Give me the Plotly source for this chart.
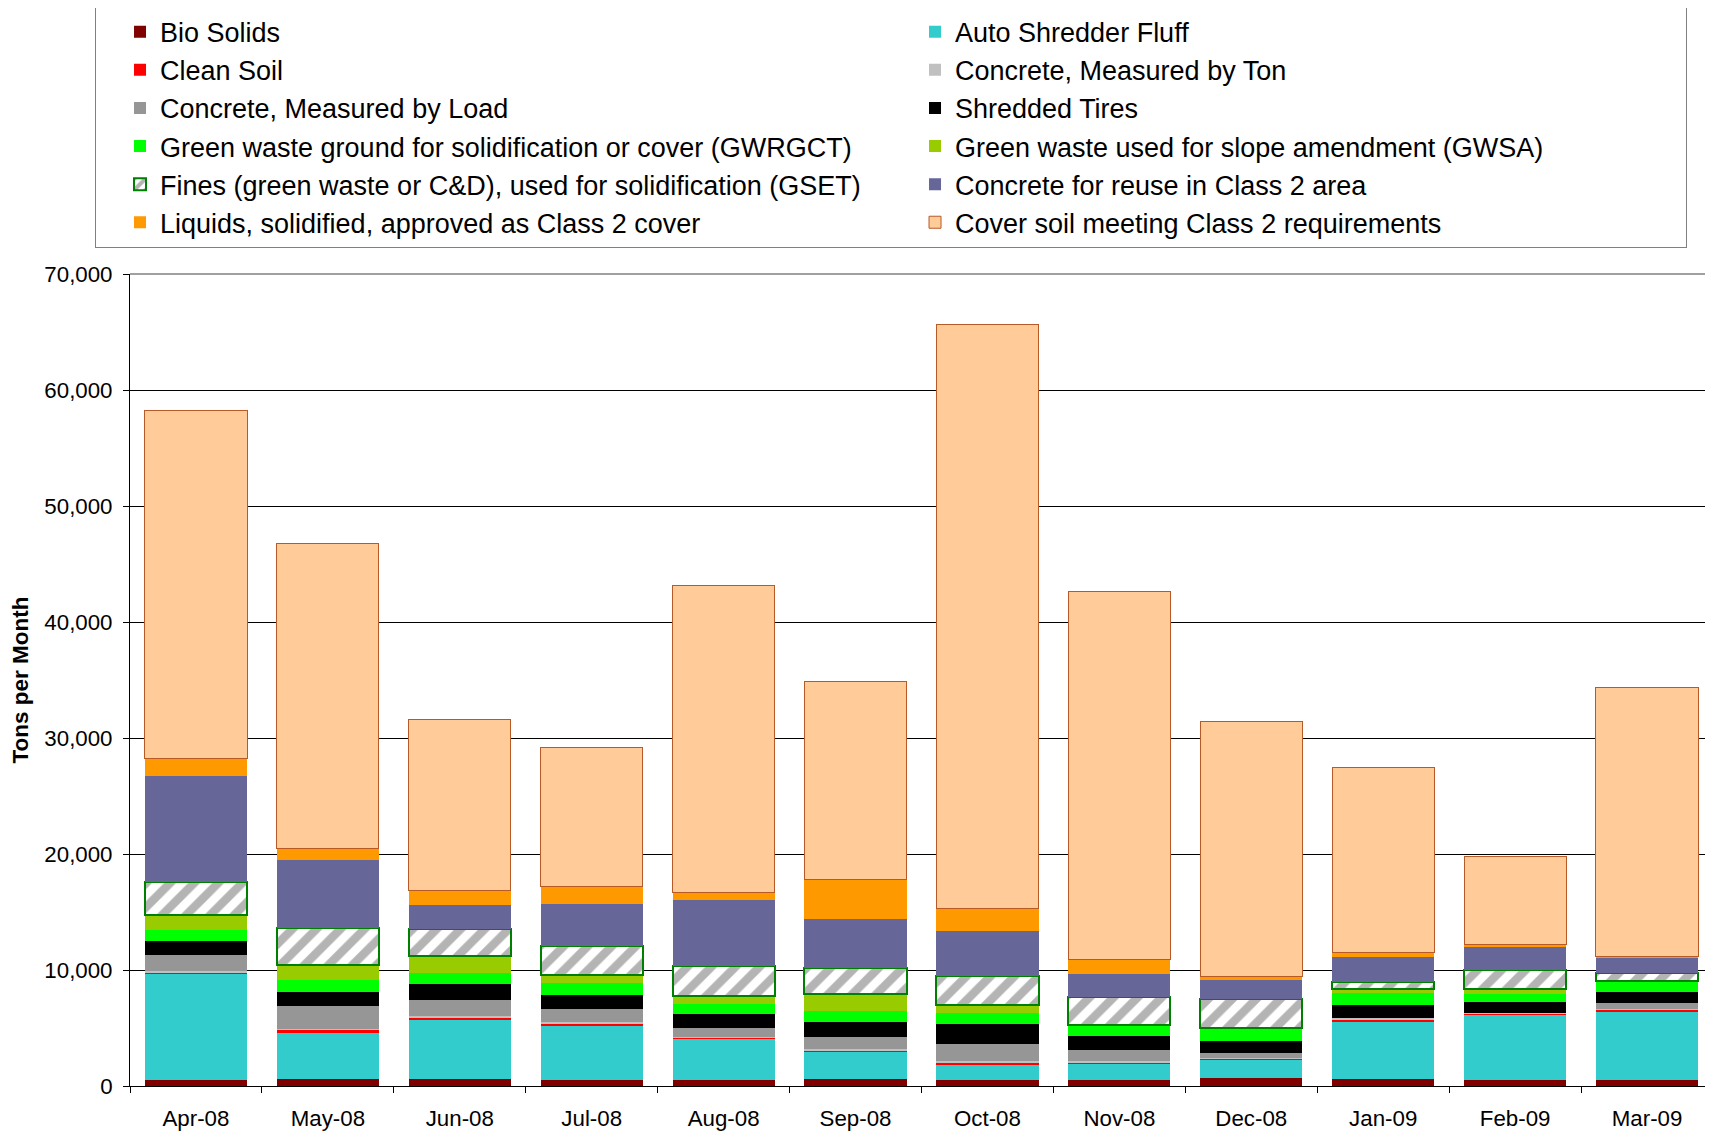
import plotly.graph_objects as go

months = ["Apr-08", "May-08", "Jun-08", "Jul-08", "Aug-08", "Sep-08",
          "Oct-08", "Nov-08", "Dec-08", "Jan-09", "Feb-09", "Mar-09"]

bio_solids = [546, 632, 632, 546, 546, 632, 546, 546, 719, 632, 546, 546]
auto_shredder_fluff = [9110, 3966, 5087, 4598, 3506, 2271, 1293, 1408, 1551, 4944, 5576, 5863]
clean_soil = [143, 230, 201, 259, 115, 172, 144, 87, 115, 86, 143, 172]
concrete_ton = [144, 115, 115, 144, 87, 115, 201, 115, 58, 230, 30, 58]
concrete_load = [1380, 1983, 1409, 1121, 776, 1064, 1466, 977, 431, 0, 0, 546]
shredded_tires = [1207, 1207, 1379, 1207, 1207, 1293, 1724, 1207, 1035, 1121, 976, 948]
gwrgct = [948, 1035, 949, 1034, 862, 948, 920, 891, 1063, 1034, 633, 920]
gwsa = [1293, 1236, 1465, 690, 632, 1409, 719, 0, 0, 316, 431, 0]
fines = [2817, 3190, 2300, 2443, 2587, 2270, 2442, 2443, 2558, 604, 1638, 690]
concrete_reuse = [9110, 5863, 2098, 3679, 5748, 4253, 3938, 2011, 1581, 2127, 2012, 1264]
liquids = [1495, 1006, 1235, 1437, 574, 3363, 1925, 1179, 287, 373, 230, 173]
cover_soil = [29998, 26335, 14768, 12032, 26486, 17050, 50312, 31791, 22052, 16028, 7559, 23189]

series = [
    ("Bio Solids", bio_solids, "#800000"),
    ("Auto Shredder Fluff", auto_shredder_fluff, "#33CCCC"),
    ("Clean Soil", clean_soil, "#FF0000"),
    ("Concrete, Measured by Ton", concrete_ton, "#C0C0C0"),
    ("Concrete, Measured by Load", concrete_load, "#969696"),
    ("Shredded Tires", shredded_tires, "#000000"),
    ("Green waste ground for solidification or cover (GWRGCT)", gwrgct, "#00FF00"),
    ("Green waste used for slope amendment (GWSA)", gwsa, "#99CC00"),
    ("Fines (green waste or C&D), used for solidification (GSET)", fines, "#FFFFFF"),
    ("Concrete for reuse in Class 2 area", concrete_reuse, "#666699"),
    ("Liquids, solidified, approved as Class 2 cover", liquids, "#FF9900"),
    ("Cover soil meeting Class 2 requirements", cover_soil, "#FFCC99"),
]

FONT = "Liberation Sans, Arial, sans-serif"

fig = go.Figure()
for name, vals, color in series:
    marker = dict(color=color, line=dict(width=0))
    if name.startswith("Fines"):
        marker = dict(
            color="#FFFFFF",
            pattern=dict(shape="/", fgcolor="#6A6A6A", bgcolor="#FFFFFF",
                         size=17, solidity=0.5),
            line=dict(color="#008000", width=2),
        )
    elif name.startswith("Cover soil"):
        marker = dict(color=color, line=dict(color="#B85A26", width=1))
    fig.add_trace(go.Bar(name=name, x=months, y=vals, marker=marker))

# The page body has a default 8px margin, so the figure is sized and
# offset to fill the 1713x1134 window from (8, 8).
fig.update_layout(
    width=1705,
    height=1126,
    barmode="stack",
    bargap=0.225,
    plot_bgcolor="#FFFFFF",
    paper_bgcolor="#FFFFFF",
    font=dict(family=FONT, color="#000000", size=22),
    margin=dict(l=122, r=0, t=266, b=48, autoexpand=False),
    showlegend=True,
    legend=dict(
        orientation="h",
        traceorder="normal",
        x=-0.0221, xanchor="left",
        y=1.3292, yanchor="top",
        entrywidth=726,
        entrywidthmode="pixels",
        indentation=24,
        bgcolor="#FFFFFF",
        bordercolor="#808080",
        borderwidth=1,
        font=dict(family=FONT, size=27, color="#000000"),
    ),
    xaxis=dict(
        showline=True, linecolor="#000000", linewidth=1,
        ticks="outside", tickson="boundaries", ticklen=6, tickcolor="#000000",
        ticklabelstandoff=12,
        tickfont=dict(family=FONT, size=22.3, color="#000000"),
        showgrid=False,
    ),
    yaxis=dict(
        range=[0, 70000],
        dtick=10000,
        tickformat=",",
        showline=True, linecolor="#000000", linewidth=1,
        ticks="outside", ticklen=6, tickcolor="#000000",
        ticklabelstandoff=6,
        showgrid=True, gridcolor="#000000", gridwidth=1,
        zeroline=False,
        tickfont=dict(family=FONT, size=22.3, color="#000000"),
        title=dict(text="<b>Tons per Month</b>", standoff=16,
                   font=dict(family=FONT, size=22.5, color="#000000")),
    ),
    shapes=[dict(type="line", xref="paper", yref="paper", x0=0, x1=1, y0=1, y1=1,
                 line=dict(color="#808080", width=1.5), layer="above")],
)

fig.write_html("out.html")
